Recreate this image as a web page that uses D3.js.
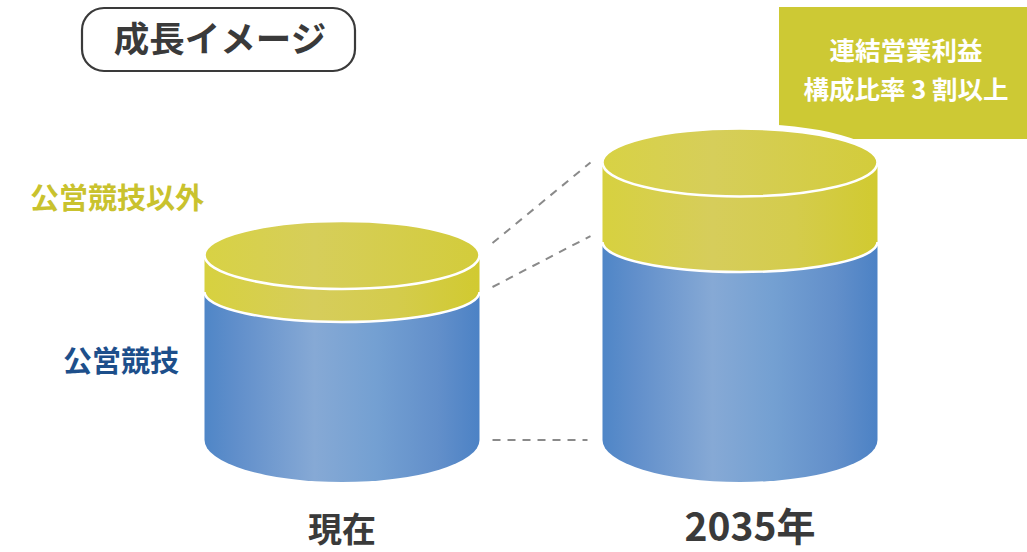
<!DOCTYPE html>
<html><head><meta charset="utf-8">
<script src="https://cdn.jsdelivr.net/npm/d3@7"></script>
<style>
html,body{margin:0;padding:0;background:#fff;}
svg{display:block;}
text{font-family:"Noto Sans CJK JP","Noto Sans",sans-serif;font-weight:700;}
</style></head>
<body>
<div id="chart"></div>
<script>
// ---- data ----
const categories = ["現在", "2035年"];
const publicRacing = [80, 107];      // 公営競技
const otherBusiness = [20, 43];      // 公営競技以外
const seriesNames = ["公営競技", "公営競技以外"];
const titleText = "成長イメージ";
const calloutLines = ["連結営業利益", "構成比率 3 割以上"];

const W = 1027, H = 552;
const svg = d3.select("#chart").append("svg").attr("width", W).attr("height", H);

const x = d3.scaleBand().domain(categories).range([204.5, 877.5]).paddingInner(0.309).paddingOuter(0);
const y = d3.scaleLinear().domain([0, 150]).range([440, 162.5]);

const rx = x.bandwidth() / 2;
const ryTop = 34, ryMid = 30, ryBase = 42;

const defs = svg.append("defs");
function grad(id, stops) {
  const g = defs.append("linearGradient").attr("id", id).attr("x1", "0%").attr("x2", "100%").attr("y1", "0%").attr("y2", "0%");
  stops.forEach(s => g.append("stop").attr("offset", s[0]).attr("stop-color", s[1]));
}
grad("blueG", [["0%", "#4f86c7"], ["12%", "#618fcb"], ["40%", "#86a9d5"], ["62%", "#74a0d2"], ["85%", "#628fca"], ["100%", "#4c82c5"]]);
grad("yelG", [["0%", "#d7d13f"], ["40%", "#d6cd5b"], ["70%", "#d4cc4c"], ["100%", "#d1ca30"]]);
grad("yelTopG", [["0%", "#d8d244"], ["40%", "#d6ce5a"], ["100%", "#d3cc3b"]]);

// callout box
const calloutColor = "#cdc934";
svg.append("rect").attr("x", 779).attr("y", 7).attr("width", W - 779 + 2).attr("height", 132).attr("fill", calloutColor);
const ct = svg.append("text").attr("fill", "#fff").attr("font-size", 25.5).attr("text-anchor", "middle");
calloutLines.forEach((l, i) => ct.append("tspan").attr("x", 906).attr("y", 60 + i * 39).text(l));

// title
svg.append("rect").attr("x", 82).attr("y", 8).attr("width", 273).attr("height", 63).attr("rx", 22)
  .attr("fill", "#fff").attr("stroke", "#3a3a3a").attr("stroke-width", 2.2);
svg.append("text").attr("x", 220).attr("y", 52).attr("text-anchor", "middle").attr("font-size", 35.5)
  .attr("fill", "#3a3a3a").text(titleText);

// dashed connectors
const dash = svg.append("g").attr("stroke", "#8a8a8a").attr("stroke-width", 2).attr("stroke-dasharray", "8,7").attr("fill", "none");
const xl = x(categories[0]) + x.bandwidth() + 13, xr = x(categories[1]) - 12;
const t0 = publicRacing[0] + otherBusiness[0], t1 = publicRacing[1] + otherBusiness[1];
dash.append("line").attr("x1", xl).attr("y1", y(t0) - 12).attr("x2", xr).attr("y2", y(t1));
dash.append("line").attr("x1", xl).attr("y1", y(publicRacing[0]) - 5).attr("x2", xr).attr("y2", y(publicRacing[1]) - 6);
dash.append("line").attr("x1", xl).attr("y1", y(0)).attr("x2", xr - 3).attr("y2", y(0));

// cylinders
categories.forEach((c, i) => {
  const x0 = x(c), x1 = x0 + x.bandwidth(), cx = x0 + rx;
  const yb = y(publicRacing[i]);
  const yt = y(publicRacing[i] + otherBusiness[i]);
  const y0 = y(0);
  const g = svg.append("g");
  // white halo behind top
  g.append("ellipse").attr("cx", cx).attr("cy", yt).attr("rx", rx + 5).attr("ry", ryTop + 5).attr("fill", "#fff");
  // blue body
  g.append("path").attr("d", `M${x0},${yb} L${x0},${y0} A${rx},${ryBase} 0 0 0 ${x1},${y0} L${x1},${yb} Z`)
    .attr("fill", "url(#blueG)");
  // yellow body
  g.append("path").attr("d", `M${x0},${yt} L${x0},${yb} A${rx},${ryMid} 0 0 0 ${x1},${yb} L${x1},${yt} Z`)
    .attr("fill", "url(#yelG)");
  g.append("path").attr("d", `M${x0},${yb} A${rx},${ryMid} 0 0 0 ${x1},${yb}`)
    .attr("fill", "none").attr("stroke", "#fff").attr("stroke-width", 2.5);
  // top
  g.append("ellipse").attr("cx", cx).attr("cy", yt).attr("rx", rx).attr("ry", ryTop)
    .attr("fill", "url(#yelTopG)").attr("stroke", "#fff").attr("stroke-width", 2.5);
  // category label
  svg.append("text").attr("x", cx + (i === 0 ? 0 : 10)).attr("y", i === 0 ? 542 : 541).attr("text-anchor", "middle")
    .attr("font-size", i === 0 ? 34 : 39).attr("fill", "#3a3a3a").text(c);
});

// series labels
svg.append("text").attr("x", 30).attr("y", 209).attr("font-size", 29).attr("fill", "#c9c22e").text(seriesNames[1]);
svg.append("text").attr("x", 63).attr("y", 372).attr("font-size", 29).attr("fill", "#1d4f8b").text(seriesNames[0]);
</script>
</body></html>
